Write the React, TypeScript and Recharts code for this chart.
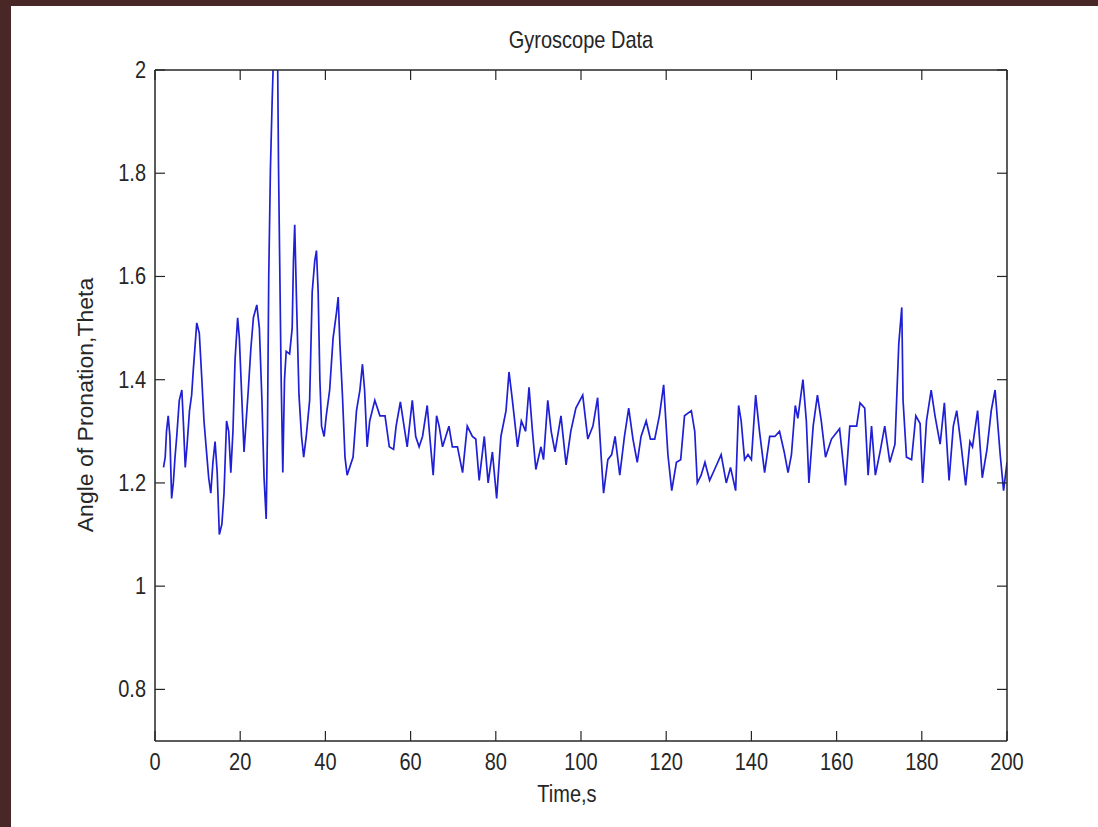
import { LineChart, Line, XAxis, YAxis } from 'recharts';

// time (s) and angle values
const times = [
  2.0, 2.4, 2.7, 3.1, 3.5, 3.9, 4.3, 4.7, 5.1, 5.7, 6.3, 6.7, 7.1, 7.5, 8.1, 8.6, 9.0, 9.8, 10.4, 11.0,
  11.5, 12.2, 12.6, 13.1, 13.6, 14.1, 14.6, 15.1, 15.7, 16.2, 16.8, 17.3, 17.8, 18.3, 18.8, 19.4, 19.8, 20.4, 20.9, 21.4,
  21.9, 22.5, 23.1, 23.9, 24.5, 25.1, 25.6, 26.1, 26.4, 26.7, 27.1, 27.5, 27.9, 28.3, 28.7, 29.0, 29.6, 30.0, 30.4, 30.8,
  31.6, 32.2, 32.5, 32.8, 33.2, 33.8, 34.4, 34.9, 35.5, 36.3, 36.9, 37.5, 37.9, 38.3, 38.7, 39.1, 39.7, 40.2, 41.0, 41.8,
  42.6, 43.0, 43.4, 44.0, 44.6, 45.1, 45.7, 46.5, 47.3, 48.1, 48.7, 49.2, 49.8, 50.4, 51.6, 52.8, 54.0, 55.0, 56.0, 56.6,
  57.6, 59.2, 60.4, 61.2, 62.0, 62.8, 63.9, 64.5, 65.3, 66.1, 66.7, 67.5, 69.0, 69.8, 71.0, 72.2, 73.3, 74.5, 75.3, 76.1,
  77.3, 78.2, 79.2, 80.2, 81.2, 82.4, 83.1, 83.9, 85.1, 86.0, 87.0, 87.8, 88.6, 89.4, 90.6, 91.2, 92.2, 93.0, 93.9, 95.3,
  96.5, 97.6, 98.8, 100.4, 101.6, 102.8, 103.9, 104.7, 105.3, 106.3, 107.2, 108.0, 109.1, 110.2, 111.2, 112.2, 113.2, 114.1, 115.3, 116.3,
  117.3, 118.4, 119.4, 120.4, 121.3, 122.4, 123.4, 124.3, 125.9, 126.7, 127.3, 128.2, 129.1, 130.2, 131.3, 132.9, 134.1, 135.1, 136.3, 137.0,
  137.6, 138.4, 139.2, 140.0, 141.0, 141.9, 143.1, 144.3, 145.5, 146.6, 147.7, 148.6, 149.4, 150.3, 150.9, 152.1, 152.9, 153.5, 154.5, 155.5,
  156.4, 157.4, 158.8, 160.7, 162.1, 163.1, 164.7, 165.5, 166.6, 167.4, 168.2, 169.1, 170.2, 171.3, 172.5, 173.7, 174.6, 175.3, 175.6, 176.4,
  177.6, 178.6, 179.6, 180.2, 181.1, 182.2, 183.1, 184.3, 185.3, 186.4, 187.4, 188.2, 189.2, 190.3, 191.3, 191.9, 193.1, 194.2, 195.3, 196.3,
  197.2, 198.4, 199.2, 200.0,
];

const theta = [
  1.23, 1.25, 1.30, 1.33, 1.29, 1.17, 1.20, 1.25, 1.29, 1.36, 1.38, 1.31, 1.23, 1.27, 1.34, 1.37, 1.42, 1.51, 1.49, 1.40,
  1.32, 1.25, 1.21, 1.18, 1.24, 1.28, 1.22, 1.10, 1.12, 1.18, 1.32, 1.30, 1.22, 1.30, 1.44, 1.52, 1.48, 1.36, 1.26, 1.32,
  1.38, 1.46, 1.52, 1.545, 1.50, 1.36, 1.21, 1.13, 1.30, 1.60, 1.81, 1.94, 2.05, 2.2, 2.1, 1.81, 1.41, 1.22, 1.40, 1.455,
  1.45, 1.50, 1.63, 1.70, 1.56, 1.37, 1.29, 1.25, 1.29, 1.36, 1.57, 1.63, 1.65, 1.57, 1.40, 1.31, 1.29, 1.33, 1.38, 1.48,
  1.53, 1.56, 1.47, 1.37, 1.25, 1.215, 1.23, 1.25, 1.34, 1.38, 1.43, 1.38, 1.27, 1.32, 1.36, 1.33, 1.33, 1.27, 1.265, 1.31,
  1.357, 1.27, 1.36, 1.29, 1.27, 1.29, 1.35, 1.29, 1.215, 1.33, 1.31, 1.27, 1.31, 1.27, 1.27, 1.22, 1.31, 1.29, 1.285, 1.205,
  1.29, 1.20, 1.26, 1.17, 1.29, 1.34, 1.415, 1.36, 1.27, 1.32, 1.30, 1.385, 1.30, 1.226, 1.27, 1.245, 1.36, 1.30, 1.26, 1.33,
  1.235, 1.30, 1.345, 1.37, 1.285, 1.31, 1.365, 1.255, 1.18, 1.245, 1.255, 1.29, 1.215, 1.29, 1.345, 1.285, 1.24, 1.29, 1.32, 1.285,
  1.285, 1.33, 1.39, 1.255, 1.185, 1.24, 1.245, 1.33, 1.34, 1.30, 1.20, 1.215, 1.24, 1.205, 1.225, 1.255, 1.20, 1.23, 1.185, 1.35,
  1.32, 1.245, 1.255, 1.245, 1.37, 1.30, 1.22, 1.29, 1.29, 1.30, 1.26, 1.22, 1.255, 1.35, 1.325, 1.40, 1.32, 1.20, 1.31, 1.37,
  1.32, 1.25, 1.285, 1.305, 1.195, 1.31, 1.31, 1.355, 1.345, 1.215, 1.31, 1.215, 1.26, 1.31, 1.24, 1.275, 1.47, 1.54, 1.36, 1.25,
  1.245, 1.33, 1.315, 1.20, 1.32, 1.38, 1.33, 1.275, 1.355, 1.205, 1.31, 1.34, 1.275, 1.195, 1.28, 1.27, 1.34, 1.21, 1.265, 1.34,
  1.38, 1.255, 1.185, 1.24,
];

const xTicks = [0, 20, 40, 60, 80, 100, 120, 140, 160, 180, 200];
const yTicks = [0.8, 1, 1.2, 1.4, 1.6, 1.8, 2];

const data = times.map((t, i) => ({ t, v: theta[i] }));

const font = "'Liberation Sans', Arial, Helvetica, sans-serif";
const ink = '#262626';
const TICK = 10;
const STRETCH = 1.22; // the original text looks tall and narrow

function BottomTick({ x, y, payload }: any) {
  return (
    <g>
      <line x1={x} y1={y} x2={x} y2={y - TICK} stroke={ink} strokeWidth={1.2} />
      <text
        transform={`translate(${x},${y + 29}) scale(1,${STRETCH})`}
        textAnchor="middle"
        fontSize={20}
        fontFamily={font}
        fill={ink}
      >
        {payload.value}
      </text>
    </g>
  );
}

function TopTick({ x, y }: any) {
  return <line x1={x} y1={y} x2={x} y2={y + TICK} stroke={ink} strokeWidth={1.2} />;
}

function LeftTick({ x, y, payload }: any) {
  return (
    <g>
      <line x1={x} y1={y} x2={x + TICK} y2={y} stroke={ink} strokeWidth={1.2} />
      <text
        transform={`translate(${x - 9},${y + 8}) scale(1,${STRETCH})`}
        textAnchor="end"
        fontSize={20}
        fontFamily={font}
        fill={ink}
      >
        {payload.value}
      </text>
    </g>
  );
}

function RightTick({ x, y }: any) {
  return <line x1={x} y1={y} x2={x - TICK} y2={y} stroke={ink} strokeWidth={1.2} />;
}

export default function App() {
  return (
    <div style={{ position: 'absolute', left: 0, top: 0, width: 1098, height: 827, background: '#4a2727' }}>
      <div style={{ position: 'absolute', left: 11, top: 6, width: 1087, height: 821, background: '#fff' }} />
      <div style={{ position: 'absolute', left: 0, top: 0 }}>
        <LineChart width={1098} height={827} data={data} margin={{ top: 60, right: 81, bottom: 46, left: 95 }}>
          <XAxis
            xAxisId="b"
            dataKey="t"
            type="number"
            domain={[0, 200]}
            ticks={xTicks}
            interval={0}
            allowDataOverflow
            height={40}
            tickSize={0}
            tickMargin={0}
            tickLine={false}
            axisLine={{ stroke: ink, strokeWidth: 1.5 }}
            tick={BottomTick}
          />
          <XAxis
            xAxisId="t"
            orientation="top"
            dataKey="t"
            type="number"
            domain={[0, 200]}
            ticks={xTicks}
            interval={0}
            allowDataOverflow
            height={10}
            tickSize={0}
            tickMargin={0}
            tickLine={false}
            axisLine={{ stroke: ink, strokeWidth: 1.5 }}
            tick={TopTick}
          />
          <YAxis
            yAxisId="l"
            type="number"
            domain={[0.7, 2]}
            ticks={yTicks}
            interval={0}
            allowDataOverflow
            width={60}
            tickSize={0}
            tickMargin={0}
            tickLine={false}
            axisLine={{ stroke: ink, strokeWidth: 1.5 }}
            tick={LeftTick}
          />
          <YAxis
            yAxisId="r"
            orientation="right"
            type="number"
            domain={[0.7, 2]}
            ticks={yTicks}
            interval={0}
            allowDataOverflow
            width={10}
            tickSize={0}
            tickMargin={0}
            tickLine={false}
            axisLine={{ stroke: ink, strokeWidth: 1.5 }}
            tick={RightTick}
          />
          <Line
            xAxisId="b"
            yAxisId="l"
            type="linear"
            dataKey="v"
            stroke="#1f1fd6"
            strokeWidth={1.7}
            dot={false}
            isAnimationActive={false}
          />
        </LineChart>
      </div>
      <div
        style={{
          position: 'absolute',
          left: 481,
          top: 29,
          width: 200,
          textAlign: 'center',
          fontFamily: font,
          fontSize: 20,
          color: ink,
          transform: `scaleY(${STRETCH})`,
        }}
      >
        Gyroscope Data
      </div>
      <div
        style={{
          position: 'absolute',
          left: 467,
          top: 783,
          width: 200,
          textAlign: 'center',
          fontFamily: font,
          fontSize: 20,
          color: ink,
          transform: `scaleY(${STRETCH})`,
        }}
      >
        Time,s
      </div>
      <div
        style={{
          position: 'absolute',
          left: 86,
          top: 405,
          transform: `translate(-50%, -50%) rotate(-90deg) scaleY(1.1) scaleX(1.15)`,
          whiteSpace: 'nowrap',
          fontFamily: font,
          fontSize: 20,
          color: ink,
        }}
      >
        Angle of Pronation,Theta
      </div>
    </div>
  );
}
